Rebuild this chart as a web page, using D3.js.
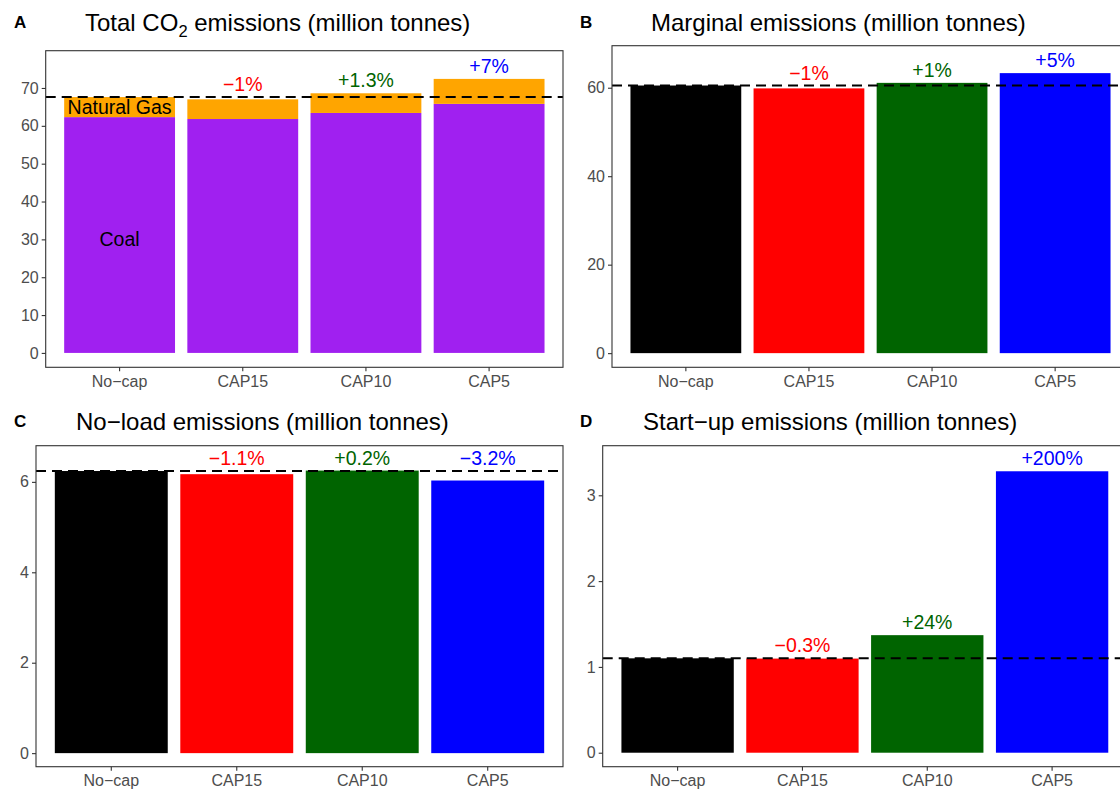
<!DOCTYPE html>
<html>
<head>
<meta charset="utf-8">
<script src="https://cdn.jsdelivr.net/npm/d3@7"></script>
<style>
  html, body { margin: 0; padding: 0; background: #fff; }
  svg { display: block; font-family: "Liberation Sans", Arial, sans-serif; }
</style>
</head>
<body>
<svg id="chart" width="1120" height="792"></svg>
<script>
// Scenarios on the x axis of every panel
const categories = ["No\u2212cap", "CAP15", "CAP10", "CAP5"];
const scenarioColors = ["#000000", "#FF0000", "#006400", "#0000FF"];

// Panel A: total CO2 split into coal and natural gas (million tonnes)
const totalCO2 = [67.6, 67.0, 68.6, 72.4];
const coalCO2 = [62.3, 61.8, 63.4, 65.8];
const totalLabels = ["", "\u22121%", "+1.3%", "+7%"];

// Panel B: marginal emissions
const marginal = [60.5, 59.85, 61.1, 63.3];
const marginalLabels = ["", "\u22121%", "+1%", "+5%"];

// Panel C: no-load emissions
const noLoad = [6.24, 6.17, 6.25, 6.03];
const noLoadLabels = ["", "\u22121.1%", "+0.2%", "\u22123.2%"];

// Panel D: start-up emissions
const startup = [1.10, 1.097, 1.37, 3.28];
const startupLabels = ["", "\u22120.3%", "+24%", "+200%"];

// Tick values per panel
const ticksA = [0, 10, 20, 30, 40, 50, 60, 70];
const ticksB = [0, 20, 40, 60];
const ticksC = [0, 2, 4, 6];
const ticksD = [0, 1, 2, 3];

const svg = d3.select("#chart");
const AXIS_GREY = "#4D4D4D";
const FRAME = "#333333";

function panel(cfg) {
  const g = svg.append("g");
  const x = d3.scaleBand()
    .domain(categories)
    .range([cfg.left, cfg.right])
    .paddingInner(0.1)
    .paddingOuter(0.15);
  const y = d3.scaleLinear().domain(cfg.yDomain).range([cfg.bottom, cfg.top]);

  // Bars
  if (cfg.stack) {
    const rows = categories.map((c, i) => ({ cat: c, coal: coalCO2[i], gas: totalCO2[i] - coalCO2[i] }));
    const series = d3.stack().keys(["coal", "gas"])(rows);
    const fills = { coal: "#A020F0", gas: "#FFA500" };
    g.selectAll("g.layer").data(series).join("g")
      .attr("fill", d => fills[d.key])
      .selectAll("rect").data(d => d).join("rect")
      .attr("x", d => x(d.data.cat))
      .attr("width", x.bandwidth())
      .attr("y", d => y(d[1]))
      .attr("height", d => y(d[0]) - y(d[1]));
  } else {
    g.selectAll("rect.bar").data(cfg.values).join("rect")
      .attr("class", "bar")
      .attr("x", (d, i) => x(categories[i]))
      .attr("width", x.bandwidth())
      .attr("y", d => y(d))
      .attr("height", d => y(0) - y(d))
      .attr("fill", (d, i) => scenarioColors[i]);
  }

  // Baseline (No-cap) reference line
  const base = cfg.values[0];
  g.append("line")
    .attr("x1", cfg.left).attr("x2", cfg.right)
    .attr("y1", y(base)).attr("y2", y(base))
    .attr("stroke", "#000").attr("stroke-width", 2)
    .attr("stroke-dasharray", "10,6");

  // Percentage change labels
  g.selectAll("text.pct").data(cfg.values).join("text")
    .attr("class", "pct")
    .attr("x", (d, i) => x(categories[i]) + x.bandwidth() / 2)
    .attr("y", d => y(Math.max(d, base)) - 6)
    .attr("text-anchor", "middle")
    .attr("font-size", 19.5)
    .attr("fill", (d, i) => scenarioColors[i])
    .text((d, i) => cfg.labels[i]);

  // Panel frame
  g.append("rect")
    .attr("x", cfg.left).attr("y", cfg.top)
    .attr("width", cfg.right - cfg.left).attr("height", cfg.bottom - cfg.top)
    .attr("fill", "none").attr("stroke", FRAME).attr("stroke-width", 1.1);

  // Axes
  const yAxis = g.append("g")
    .attr("transform", `translate(${cfg.left},0)`)
    .call(d3.axisLeft(y).tickValues(cfg.ticks).tickSize(4).tickPadding(3).tickFormat(d3.format("d")));
  const xAxis = g.append("g")
    .attr("transform", `translate(0,${cfg.bottom})`)
    .call(d3.axisBottom(x).tickSize(4).tickPadding(4));
  [yAxis, xAxis].forEach(ax => {
    ax.select(".domain").remove();
    ax.selectAll(".tick line").attr("stroke", FRAME).attr("stroke-width", 1.1);
    ax.selectAll(".tick text")
      .attr("fill", AXIS_GREY)
      .attr("font-size", 16)
      .attr("font-family", "'Liberation Sans', Arial, sans-serif");
  });

  // Panel letter and title
  svg.append("text")
    .attr("x", cfg.letterX).attr("y", cfg.titleY - 3)
    .attr("font-size", 17).attr("font-weight", "bold")
    .text(cfg.letter);
  const t = svg.append("text")
    .attr("x", cfg.titleX).attr("y", cfg.titleY)
    .attr("font-size", 24).attr("fill", "#000");
  cfg.title.forEach(part => {
    const ts = t.append("tspan").text(part.text);
    if (part.sub) ts.attr("font-size", 16.5).attr("dy", 6);
    if (part.after) ts.attr("dy", -6);
  });

  return { g, x, y };
}

// A: total emissions, stacked coal + natural gas
const pA = panel({
  left: 45.7, right: 563, top: 50.7, bottom: 367.3,
  yDomain: [-3.8, 79.85], ticks: ticksA,
  values: totalCO2, labels: totalLabels, stack: true,
  letter: "A", letterX: 14, titleX: 85, titleY: 31,
  title: [{ text: "Total CO" }, { text: "2", sub: true }, { text: " emissions (million tonnes)", after: true }]
});
// Fuel annotations inside the No-cap bar
pA.g.append("text")
  .attr("x", pA.x(categories[0]) + pA.x.bandwidth() / 2)
  .attr("y", pA.y((coalCO2[0] + totalCO2[0]) / 2) + 7)
  .attr("text-anchor", "middle").attr("font-size", 19.5).attr("fill", "#000")
  .text("Natural Gas");
pA.g.append("text")
  .attr("x", pA.x(categories[0]) + pA.x.bandwidth() / 2)
  .attr("y", pA.y(30) + 7)
  .attr("text-anchor", "middle").attr("font-size", 19.5).attr("fill", "#000")
  .text("Coal");

// B: marginal emissions
panel({
  left: 612, right: 1129, top: 45.7, bottom: 367.3,
  yDomain: [-3.2, 69.5], ticks: ticksB,
  values: marginal, labels: marginalLabels,
  letter: "B", letterX: 580, titleX: 651, titleY: 31,
  title: [{ text: "Marginal emissions (million tonnes)" }]
});

// C: no-load emissions
panel({
  left: 36, right: 563, top: 445.7, bottom: 766.7,
  yDomain: [-0.30, 6.80], ticks: ticksC,
  values: noLoad, labels: noLoadLabels,
  letter: "C", letterX: 14, titleX: 76, titleY: 430,
  title: [{ text: "No\u2212load emissions (million tonnes)" }]
});

// D: start-up emissions
panel({
  left: 602.7, right: 1127, top: 445.7, bottom: 766.7,
  yDomain: [-0.163, 3.578], ticks: ticksD,
  values: startup, labels: startupLabels,
  letter: "D", letterX: 580, titleX: 643, titleY: 430,
  title: [{ text: "Start\u2212up emissions (million tonnes)" }]
});
</script>
</body>
</html>
